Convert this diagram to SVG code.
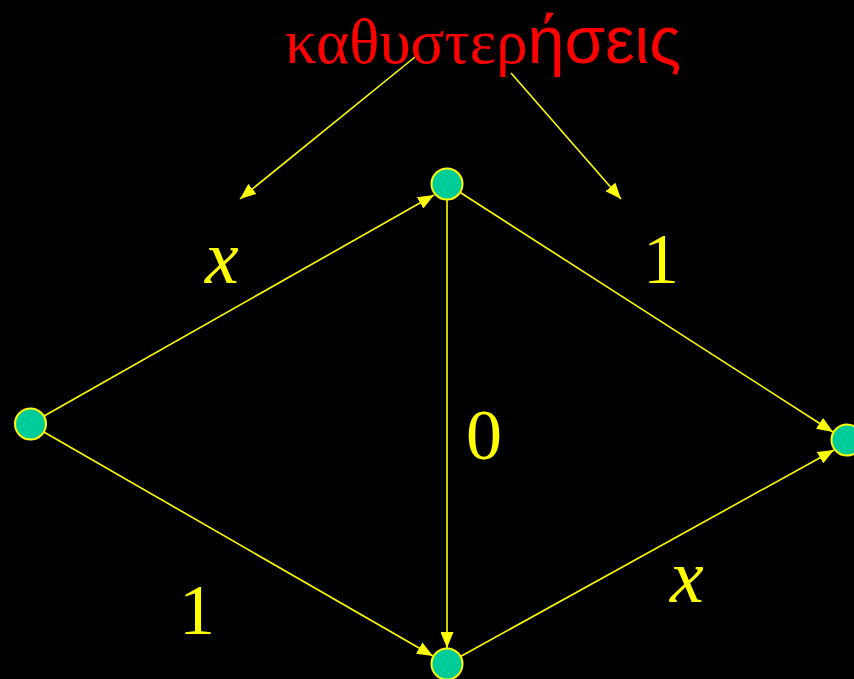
<svg xmlns="http://www.w3.org/2000/svg" width="854" height="679" viewBox="0 0 854 679">
<style>
.e{stroke:#ffff00;stroke-width:1.6;fill:none}
.n{fill:#00cc99;stroke:#ffff00;stroke-width:2}
.lbl{fill:#ffff00;font-family:"Liberation Serif",serif;font-size:72px}
.it{font-style:italic;font-size:76px}
</style>
<defs>
<marker id="ah2" viewBox="0 0 10 10" refX="10" refY="5" markerWidth="16" markerHeight="13" markerUnits="userSpaceOnUse" orient="auto" preserveAspectRatio="none">
<path d="M0,0 L10,5 L0,10 z" fill="#ffff00"/>
</marker>
</defs>
<rect width="854" height="679" fill="#000"/>
<g id="connectors">
<line class="e" x1="30" y1="424" x2="434" y2="195" marker-end="url(#ah2)"/>
<line class="e" x1="447" y1="184" x2="833" y2="432" marker-end="url(#ah2)"/>
<line class="e" x1="447" y1="184" x2="447" y2="648" marker-end="url(#ah2)"/>
<line class="e" x1="30" y1="424" x2="433" y2="656" marker-end="url(#ah2)"/>
<line class="e" x1="447" y1="664" x2="834" y2="450" marker-end="url(#ah2)"/>
<line class="e" x1="415" y1="57" x2="240" y2="199" marker-end="url(#ah2)"/>
<line class="e" x1="511" y1="73" x2="621" y2="199" marker-end="url(#ah2)"/>
</g>
<g id="node-left"><circle class="n" cx="30.5" cy="424" r="15.5"/></g>
<g id="node-top"><circle class="n" cx="447" cy="184" r="15.5"/></g>
<g id="node-right"><circle class="n" cx="847" cy="440" r="15.5"/></g>
<g id="node-bottom"><circle class="n" cx="447" cy="664" r="15.5"/></g>
<g id="labels">
<text x="285" y="63" fill="#ff0000" font-size="63" font-family="Liberation Serif,serif">καθυστερ<tspan font-family="Liberation Sans,sans-serif" font-size="66">ήσεις</tspan></text>
<text class="lbl it" x="205" y="283">x</text>
<text class="lbl" x="643" y="283">1</text>
<text class="lbl" x="466" y="459">0</text>
<text class="lbl" x="179" y="634">1</text>
<text class="lbl it" x="670" y="602">x</text>
</g>
</svg>
